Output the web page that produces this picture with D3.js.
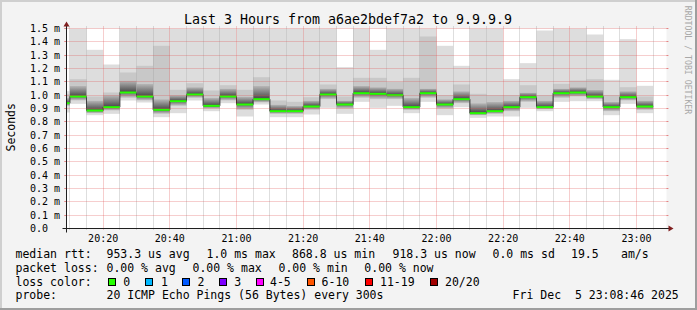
<!DOCTYPE html>
<html><head><meta charset="utf-8">
<script src="https://cdn.jsdelivr.net/npm/d3@7"></script>
<style>
html,body{margin:0;padding:0;background:#f3f3f3;}
svg{display:block;}
text{font-family:"DejaVu Sans Mono",monospace;fill:#000;white-space:pre;}
</style></head><body>
<svg id="chart" width="697" height="310"></svg>
<script>
// ---- data (values in ms) ----
const barEnd = ["20:10","20:15","20:20","20:25","20:30","20:35","20:40","20:45","20:50","20:55",
"21:00","21:05","21:10","21:15","21:20","21:25","21:30","21:35","21:40","21:45",
"21:50","21:55","22:00","22:05","22:10","22:15","22:20","22:25","22:30","22:35",
"22:40","22:45","22:50","22:55","23:00","23:05"];
const medianRtt = [0.94,0.99,0.885,0.91,1.02,0.99,0.89,0.955,1.005,0.92,
0.99,0.93,0.97,0.88,0.88,0.915,1.005,0.93,1.015,1.01,
1.0,0.91,1.015,0.93,0.97,0.865,0.88,0.91,0.985,0.91,
1.015,1.02,0.99,0.91,0.985,0.915];
const maxRtt = [1.03,1.5,1.34,1.23,1.5,1.5,1.5,1.5,1.5,1.5,
1.5,1.5,1.5,1.5,1.5,1.5,1.5,1.21,1.5,1.34,
1.5,1.5,1.5,1.37,1.22,1.5,1.5,1.12,1.24,1.485,
1.5,1.5,1.455,1.115,1.42,1.07];
const upperMid = [1.01,1.12,0.99,1.02,1.17,1.22,1.37,1.04,1.09,1.035,
1.075,1.04,1.135,0.96,0.95,0.985,1.08,0.99,1.13,1.13,
1.1,1.13,1.44,1.0,1.08,1.01,1.0,1.0,1.075,1.0,
1.085,1.11,1.12,1.0,1.06,0.99];
const upperDark = [0.98,1.07,0.96,1.0,1.11,1.085,0.97,1.0,1.06,0.98,
1.05,0.99,1.07,0.93,0.92,0.96,1.05,0.96,1.07,1.06,
1.05,0.98,1.05,0.97,1.03,0.94,0.95,0.96,1.02,0.96,
1.05,1.06,1.04,0.95,1.03,0.96];
const lowerDark = [0.92,0.96,0.865,0.885,0.98,0.96,0.86,0.92,0.98,0.9,
0.96,0.89,0.945,0.86,0.86,0.89,0.97,0.9,0.98,0.97,
0.97,0.89,0.98,0.9,0.94,0.85,0.86,0.88,0.95,0.895,
0.98,0.99,0.97,0.88,0.96,0.89];
const minRtt = [0.87,0.935,0.85,0.86,0.96,0.945,0.835,0.865,0.96,0.88,
0.94,0.84,0.93,0.835,0.835,0.855,0.905,0.86,0.95,0.905,
0.92,0.865,0.95,0.85,0.91,0.83,0.84,0.84,0.905,0.88,
0.95,0.955,0.955,0.85,0.935,0.865];
const yTicks = [0,0.1,0.2,0.3,0.4,0.5,0.6,0.7,0.8,0.9,1.0,1.1,1.2,1.3,1.4,1.5];
const yTickLabels = ["0.0","0.1 m","0.2 m","0.3 m","0.4 m","0.5 m","0.6 m","0.7 m","0.8 m","0.9 m","1.0 m","1.1 m","1.2 m","1.3 m","1.4 m","1.5 m"];
const xTickLabels = ["20:20","20:40","21:00","21:20","21:40","22:00","22:20","22:40","23:00"];
const lossLabels = ["0","1","2","3","4-5","6-10","11-19","20/20"];
const lossColors = ["#26ff00","#00b8ff","#0059ff","#7e00ff","#ff00ff","#ff5500","#ff0000","#a10000"];

// ---- layout ----
const svg = d3.select("#chart");
const day = "2025-12-05T";
const parse = s => new Date(day + s + ":00");
const x = d3.scaleTime().domain([parse("20:09"), parse("23:09")]).range([66.5, 666.5]);
const y = d3.scaleLinear().domain([0, 1.5]).range([228.5, 28.5]);
const X0 = x.range()[0], X1 = x.range()[1], Y0 = y.range()[0], Y1 = y.range()[1];

svg.append("rect").attr("width",697).attr("height",310).attr("fill","#f3f3f3");
svg.append("rect").attr("x",0).attr("y",0).attr("width",697).attr("height",2).attr("fill","#cfcfcf");
svg.append("rect").attr("x",0).attr("y",0).attr("width",2).attr("height",310).attr("fill","#cfcfcf");
svg.append("rect").attr("x",0).attr("y",308).attr("width",697).attr("height",2).attr("fill","#9e9e9e");
svg.append("rect").attr("x",695).attr("y",0).attr("width",2).attr("height",310).attr("fill","#9e9e9e");

const defs = svg.append("defs");
defs.append("clipPath").attr("id","cv").append("rect")
  .attr("x",X0).attr("y",Y1).attr("width",X1-X0).attr("height",Y0-Y1);
const gu = defs.append("linearGradient").attr("id","gup").attr("x1",0).attr("y1",0).attr("x2",0).attr("y2",1);
gu.append("stop").attr("offset",0).attr("stop-color","#b8b8b8");
gu.append("stop").attr("offset",1).attr("stop-color","#454545");
const gd = defs.append("linearGradient").attr("id","gdn").attr("x1",0).attr("y1",0).attr("x2",0).attr("y2",1);
gd.append("stop").attr("offset",0).attr("stop-color","#686868");
gd.append("stop").attr("offset",1).attr("stop-color","#c8c8c8");

svg.append("rect").attr("x",X0).attr("y",Y1).attr("width",X1-X0).attr("height",Y0-Y1).attr("fill","#ffffff");

const bars = barEnd.map((t,i)=>{
  const e = parse(t), s = new Date(e.getTime()-300000);
  return {x0: Math.max(x(s), X0), x1: x(e), med: medianRtt[i], max: maxRtt[i], um: upperMid[i],
          ud: upperDark[i], ld: lowerDark[i], min: minRtt[i]};
});

const plot = svg.append("g").attr("clip-path","url(#cv)");
function band(lo, hi, fill){
  plot.append("g").selectAll("rect").data(bars).join("rect")
    .attr("x", d=>d.x0).attr("width", d=>d.x1-d.x0)
    .attr("y", d=>y(hi(d))).attr("height", d=>Math.max(0, y(lo(d))-y(hi(d))))
    .attr("fill", fill);
}
band(d=>d.min, d=>d.max, "#dddddd");
band(d=>d.ud, d=>d.um, "#c8c8c8");
band(d=>d.med, d=>d.ud, "url(#gup)");
band(d=>d.ld, d=>d.med, "url(#gdn)");

const pts = [];
bars.forEach(d=>{ pts.push([d.x0, d.med]); pts.push([d.x1, d.med]); });
plot.append("path").attr("d", d3.line().x(p=>p[0]).y(p=>y(p[1]))(pts))
  .attr("fill","none").attr("stroke","#202020").attr("stroke-width",1);
plot.append("g").selectAll("rect").data(bars).join("rect")
  .attr("x", d=>d.x0).attr("width", d=>d.x1-d.x0)
  .attr("y", d=>y(d.med)-1).attr("height", 2).attr("fill", lossColors[0]);

// ---- grid ----
const grid = svg.append("g");
const minorCol = "rgba(143,143,143,0.6)", majorCol = "rgba(222,79,79,0.55)";
const minorTimes = d3.timeMinute.every(5).range(parse("20:10"), parse("23:09"));
minorTimes.forEach(t=>{
  const major = t.getMinutes() % 20 === 0;
  const xx = Math.floor(x(t)) + 0.5;
  const c = major ? majorCol : minorCol;
  grid.append("line").attr("x1",xx).attr("x2",xx).attr("y1",Y1-2).attr("y2",Y0+2)
    .attr("stroke",c).attr("stroke-dasharray","1,1");
});
yTicks.forEach(v=>{
  if (v === 0) return;
  const yy = Math.floor(y(v)) + 0.5;
  grid.append("line").attr("x1",X0-2).attr("x2",X0).attr("y1",yy).attr("y2",yy).attr("stroke",majorCol);
  grid.append("line").attr("x1",X1).attr("x2",X1+2).attr("y1",yy).attr("y2",yy).attr("stroke",majorCol);
  grid.append("line").attr("x1",X0-2).attr("x2",X1+2).attr("y1",yy).attr("y2",yy)
    .attr("stroke",majorCol).attr("stroke-dasharray","1,1");
});

// ---- axes ----
const ay = Math.floor(Y0)+0.5;
svg.append("line").attr("x1",X0-4).attr("x2",X1+4).attr("y1",ay).attr("y2",ay).attr("stroke","#1f1f1f");
svg.append("line").attr("x1",X0).attr("x2",X0).attr("y1",Y0+4).attr("y2",Y1-4).attr("stroke","#1f1f1f");
svg.append("path").attr("d",`M${X1+2},${ay-3}L${X1+2},${ay+3}L${X1+7},${ay}Z`).attr("fill","#801f1f");
svg.append("path").attr("d",`M${X0-3},${Y1-2}L${X0+3},${Y1-2}L${X0},${Y1-7}Z`).attr("fill","#801f1f");

svg.append("g").selectAll("text").data(yTicks).join("text")
  .attr("x",30).attr("y",v=>y(v)+3.5).attr("font-size","10px").text((v,i)=>yTickLabels[i]);
svg.append("g").selectAll("text").data(xTickLabels).join("text")
  .attr("x",t=>x(parse(t))).attr("y",241.5).attr("text-anchor","middle").attr("font-size","10px").text(t=>t);

// ---- titles ----
svg.append("text").attr("x",348).attr("y",24).attr("text-anchor","middle").attr("font-size","13.3px")
  .text("Last 3 Hours from a6ae2bdef7a2 to 9.9.9.9");
svg.append("text").attr("transform","translate(14.5,127.3) rotate(-90)").attr("text-anchor","middle")
  .attr("font-size","11.5px").text("Seconds");
svg.append("text").attr("transform","translate(684.5,60) rotate(90)").attr("text-anchor","middle")
  .attr("font-size","8.2px").style("fill","#a8a8a8").text("RRDTOOL / TOBI OETIKER");

// ---- legend ----
const leg = svg.append("g").attr("font-size","11.5px");
function lt(xp, yp, s){ leg.append("text").attr("x",xp).attr("y",yp).text(s); }
const L1=258.3, L2=272, L3=285.7, L4=299.4;
lt(15.5,L1,"median rtt:"); lt(106.5,L1,"953.3 us avg"); lt(206.5,L1,"1.0 ms max");
lt(292,L1,"868.8 us min"); lt(392.5,L1,"918.3 us now"); lt(492.5,L1,"0.0 ms sd");
lt(571,L1,"19.5"); lt(621,L1,"am/s");
lt(15.5,L2,"packet loss:"); lt(106.5,L2,"0.00 % avg"); lt(192.5,L2,"0.00 % max");
lt(278.5,L2,"0.00 % min"); lt(364.3,L2,"0.00 % now");
lt(15.5,L3,"loss color:");
const boxX = [108.5,145.5,182.5,219.5,256.5,307.5,365.5,430.5];
const labX = [123.3,161,197.6,234.3,270,321.6,380,445];
lossLabels.forEach((l,i)=>{
  leg.append("rect").attr("x",boxX[i]).attr("y",278.5).attr("width",7).attr("height",7)
    .attr("fill",lossColors[i]).attr("stroke","#000").attr("stroke-width",1);
  lt(labX[i],L3,l);
});
lt(15.5,L4,"probe:"); lt(106.5,L4,"20 ICMP Echo Pings (56 Bytes) every 300s");
lt(512.6,L4,"Fri Dec  5 23:08:46 2025");
</script>
</body></html>
